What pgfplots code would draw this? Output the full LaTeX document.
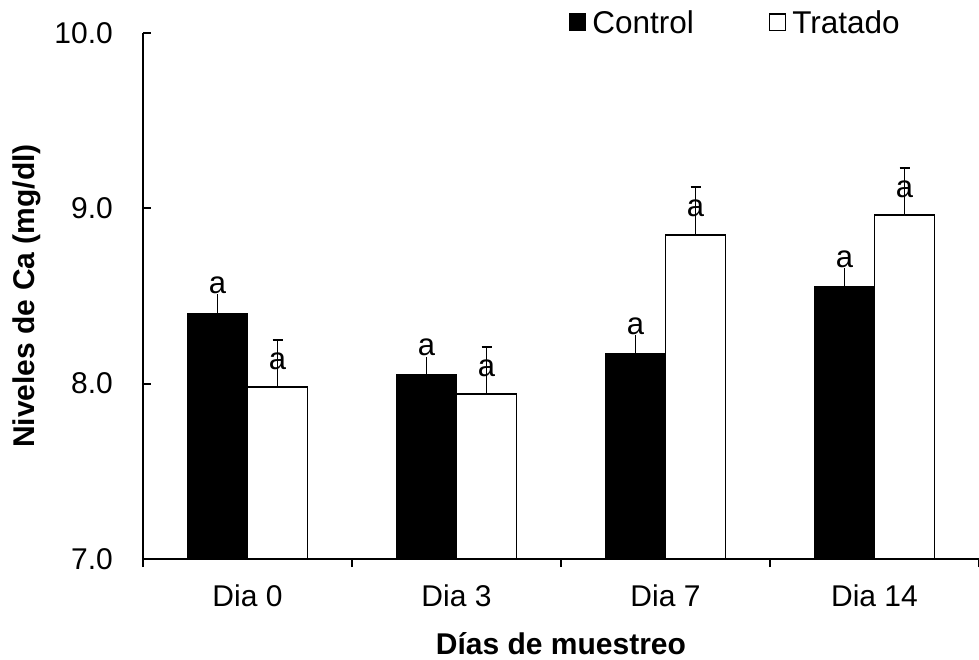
\documentclass[border=0pt]{standalone}
\usepackage{fontspec}
\setmainfont{Liberation Sans}
\usepackage{pgfplots}
\pgfplotsset{compat=1.18}
\pgfplotstableread{
x y e
0 8.40 0.11
1 8.05 0.10
2 8.17 0.11
3 8.55 0.11
}\control
\pgfplotstableread{
x y e
0 7.98 0.27
1 7.94 0.27
2 8.85 0.27
3 8.96 0.27
}\tratado
\pgfplotsset{sqlegend/.style={legend image code/.code={\draw[##1, line width=1.4bp] (0bp,-6bp) rectangle (16bp,10bp);}}}
\begin{document}
\fontsize{30bp}{36bp}\selectfont
\begin{tikzpicture}
\begin{axis}[
  at={(143bp,101bp)}, anchor=south west,
  scale only axis, width=836bp, height=526bp,
  ybar=0pt, bar width=60bp,
  xmin=-0.5, xmax=3.5, ymin=7, ymax=10,
  axis x line*=bottom, axis y line*=left,
  axis line style={line width=1.8bp, -},
  tick align=inside,
  major tick length=8bp,
  tick style={line width=1.8bp, black},
  xtick={-0.5,0.5,1.5,2.5,3.5},
  xticklabels={},
  xtick style={yshift=-8bp},
  extra x ticks={0,1,2,3},
  extra x tick labels={Dia 0,Dia 3,Dia 7,Dia 14},
  extra x tick style={major tick length=0pt},
  xticklabel style={inner sep=0pt, yshift=-26bp},
  ytick={7,8,9,10},
  yticklabel style={inner sep=0pt, xshift=-30bp},
  xlabel={\bfseries Días de muestreo},
  ylabel={\bfseries Niveles de Ca (mg/dl)},
  every axis x label/.style={at={(axis description cs:0.5,0)}, anchor=north, yshift=-73bp, inner sep=0pt},
  every axis y label/.style={at={(axis description cs:0,0.5)}, xshift=-116bp, rotate=90, anchor=center, inner sep=0pt},
  legend style={at={(0.5096,1.0427)}, anchor=north west, draw=none, fill=none, inner sep=0pt, outer sep=0pt,
    font=\fontsize{31.5bp}{37bp}\selectfont,
    nodes={inner sep=0pt},
    /tikz/every odd column/.append style={column sep=6bp},
    /tikz/every even column/.append style={column sep=75bp}},
  legend columns=2,
  nodes near coords={a},
  every node near coord/.append style={anchor=center, inner sep=0pt, font=\fontsize{31bp}{36bp}\selectfont},
  /pgf/number format/.cd, fixed, fixed zerofill, precision=1, assume math mode=true, /pgfplots/.cd,
]
\addplot[fill=black, draw=black, line width=1.8bp, sqlegend,
  every node near coord/.append style={yshift=28bp},
  error bars/.cd, y dir=plus, y explicit, error mark=none, error bar style={line width=1.8bp}]
  table[x=x, y=y, y error=e] {\control};
\addlegendentry{Control}
\addplot[fill=white, draw=black, line width=1.8bp, sqlegend,
  every node near coord/.append style={yshift=26bp},
  error bars/.cd, y dir=plus, y explicit, error mark=|, error bar style={line width=1.8bp}, error mark options={line width=1.8bp, mark size=5bp}]
  table[x=x, y=y, y error=e] {\tratado};
\addlegendentry{Tratado}
\end{axis}
\pgfresetboundingbox
\path (0,0) rectangle (979bp,660bp);
\end{tikzpicture}
\end{document}
